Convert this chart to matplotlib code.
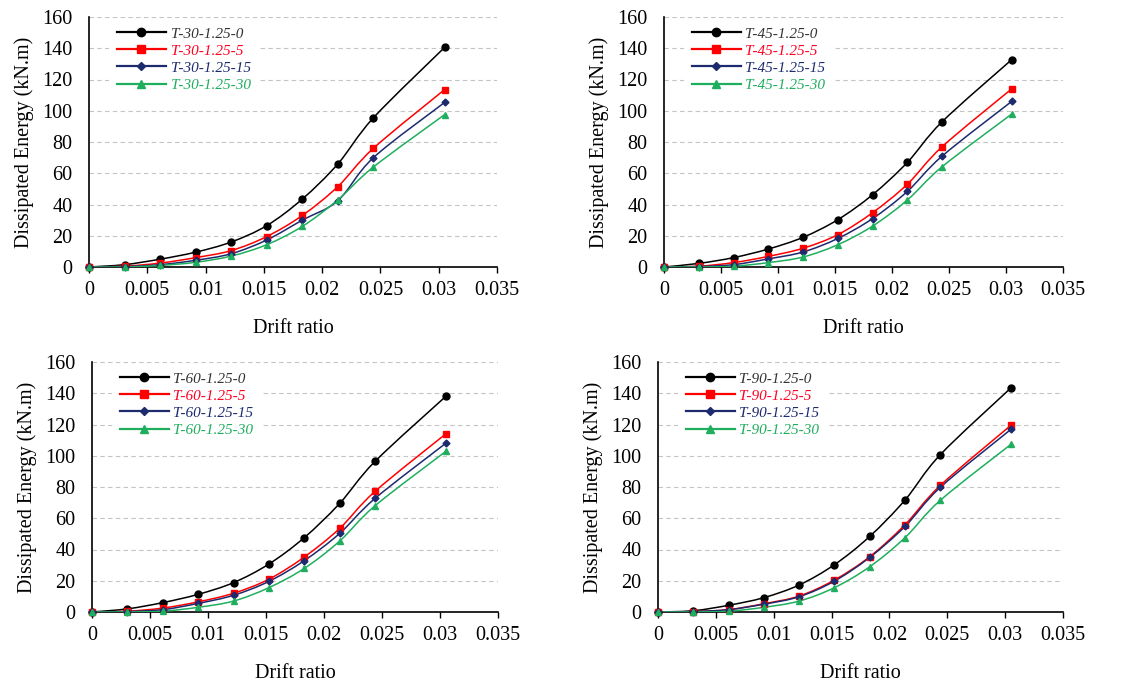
import numpy as np
import matplotlib.pyplot as plt
from matplotlib.path import Path
from matplotlib.patches import PathPatch
from matplotlib.lines import Line2D

plt.rcParams['font.family'] = ['Liberation Serif', 'DejaVu Serif']

# drift ratio of each loading step
drift = [0, 0.00305, 0.0061, 0.00915, 0.0122, 0.01525, 0.0183, 0.02135, 0.0244, 0.0305]

# dissipated energy (kN.m)
t30 = [[0, 1.5, 5, 9.5, 16, 26.5, 43.5, 66, 95.5, 140.5],
       [0, 0.5, 2.5, 6, 10.5, 19.5, 33, 51.5, 76, 113.5],
       [0, 0.3, 1.5, 4.3, 8.5, 17.3, 30, 42.5, 70, 105.3],
       [0, 0, 1, 3, 7, 14.3, 26, 43, 64, 97.5]]
t45 = [[0, 2.3, 6, 11.5, 19, 30.3, 46.3, 67, 93, 132.7],
       [0, 0.5, 2.8, 6.8, 12, 20.7, 34.8, 53, 77, 114],
       [0, 0.3, 1.5, 5.2, 9.6, 18.3, 31, 48.4, 71, 106],
       [0, 0, 0.5, 2.8, 6.4, 14.3, 26.2, 42.9, 64.2, 97.9]]
t60 = [[0, 2, 6, 11.3, 18.8, 30.7, 47.6, 69.5, 96.4, 138],
       [0, 0.5, 2.5, 6.5, 12, 21, 35.2, 53.5, 77.2, 114],
       [0, 0.3, 1.5, 5.5, 10.7, 19.6, 32.9, 50.3, 72.7, 108],
       [0, 0, 0.5, 3, 7, 15.6, 27.9, 45.4, 68, 102.8]]
t90 = [[0, 0.8, 4.3, 9.2, 17.3, 30.3, 48.4, 71.7, 100.7, 143.4],
       [0, 0.3, 1.5, 5.3, 10.2, 20.5, 35.4, 55.9, 81, 119.5],
       [0, 0.3, 1.5, 5, 9.8, 19.8, 35, 54.8, 79.8, 116.9],
       [0, 0, 0.5, 3, 7, 15.6, 29, 47.6, 71.5, 107.3]]

suffixes = ['0', '5', '15', '30']
colors = ['black', '#ff0000', '#1c2a6e', '#1fae5e']
text_colors = ['#333333', '#ff0022', '#1c2a6e', '#1fae5e']
markers = ['o', 's', 'D', '^']
msizes = [5, 5, 3.5, 5]

panels = [('30', t30, [89, 17, 497, 267]),
          ('45', t45, [664, 17, 1063, 267]),
          ('60', t60, [92, 362, 498, 612]),
          ('90', t90, [658, 362, 1063, 612])]

W, H = 1143, 689


def smooth_path(x, y):
    # Excel-style smoothed line (Catmull-Rom through the data points)
    x = np.asarray(x, float)
    y = np.asarray(y, float)
    n = len(x)
    verts = [(x[0], y[0])]
    codes = [Path.MOVETO]
    for i in range(n - 1):
        x0, y0 = (x[i - 1], y[i - 1]) if i > 0 else (x[i], y[i])
        x3, y3 = (x[i + 2], y[i + 2]) if i + 2 < n else (x[i + 1], y[i + 1])
        c1 = (x[i] + (x[i + 1] - x0) / 6, y[i] + (y[i + 1] - y0) / 6)
        c2 = (x[i + 1] - (x3 - x[i]) / 6, y[i + 1] - (y3 - y[i]) / 6)
        verts += [c1, c2, (x[i + 1], y[i + 1])]
        codes += [Path.CURVE4] * 3
    return Path(verts, codes)


fig = plt.figure(figsize=(W / 100, H / 100), dpi=100)

for angle, series, (l, t, r, b) in panels:
    ax = fig.add_axes([l / W, 1 - b / H, (r - l) / W, (b - t) / H])
    handles = []
    for k in range(4):
        ax.add_patch(PathPatch(smooth_path(drift, series[k]), fill=False,
                               edgecolor=colors[k], lw=1.1, zorder=3))
        ax.plot(drift, series[k], ls='none', marker=markers[k], ms=msizes[k],
                color=colors[k], zorder=4, clip_on=False)
        handles.append(Line2D([], [], color=colors[k], lw=1.6, marker=markers[k],
                              ms=msizes[k] + 1))
    labels = ['T-%s-1.25-%s' % (angle, s) for s in suffixes]
    leg = ax.legend(handles, labels, loc='upper left', bbox_to_anchor=(0.035, 1.015),
                    frameon=True, facecolor='white', edgecolor='none', framealpha=1,
                    handlelength=3.2, labelspacing=0.22,
                    borderpad=0.5, handletextpad=0.3, borderaxespad=0.4,
                    prop={'style': 'italic', 'size': 11})
    leg.get_frame().set_boxstyle('square', pad=0)
    for txt, c in zip(leg.get_texts(), text_colors):
        txt.set_color(c)
    leg.set_zorder(5)

    ax.set_xlim(0, 0.035)
    ax.set_ylim(0, 160)
    ax.set_xticks(np.arange(0, 0.0351, 0.005))
    ax.set_xticklabels(['0', '0.005', '0.01', '0.015', '0.02', '0.025', '0.03', '0.035'])
    ax.set_yticks(range(0, 161, 20))
    ax.yaxis.grid(True, color='#c4c4c4', ls=(0, (4, 3)), lw=0.8)
    ax.set_axisbelow(True)
    for s in ['top', 'right']:
        ax.spines[s].set_visible(False)
    ax.spines['left'].set_linewidth(1.2)
    ax.spines['bottom'].set_linewidth(1.2)
    ax.tick_params(axis='x', direction='out', length=4, width=1, pad=6, labelsize=14.5)
    ax.tick_params(axis='y', length=0, pad=12, labelsize=14.5)
    ax.set_xlabel('Drift ratio', fontsize=14.5, labelpad=14)
    ax.set_ylabel('Dissipated Energy (kN.m)', fontsize=14.5, labelpad=6)

fig.savefig('out.png', dpi=100, facecolor='white')
